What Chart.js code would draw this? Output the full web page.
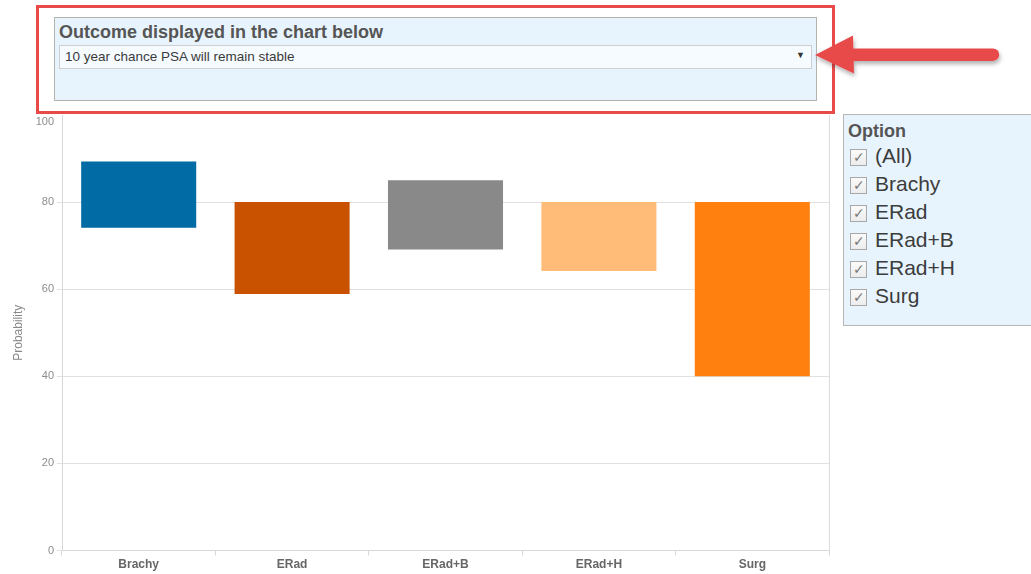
<!DOCTYPE html>
<html>
<head>
<meta charset="utf-8">
<script src="https://cdn.jsdelivr.net/npm/chart.js@4"></script>
<style>
  html, body { margin: 0; padding: 0; background: #fff; }
  #wrap { position: relative; width: 1031px; height: 574px; overflow: hidden; font-family: Arial, "Liberation Sans", sans-serif; }
  #c { position: absolute; left: 0; top: 0; }
  .redbox { position: absolute; left: 36px; top: 5px; width: 793px; height: 103px; border: 3px solid #e84a4a; box-sizing: content-box; background: #fff; }
  .panel { position: absolute; left: 54px; top: 17px; width: 761px; height: 82px; border: 1.5px solid #b3b3ab; background: #e8f4fd; }
  .panel .ttl { position: absolute; left: 4px; top: 4px; font-weight: bold; font-size: 18px; color: #555; white-space: nowrap; }
  .dd { position: absolute; left: 4px; top: 27px; width: 751px; height: 22px; border: 1px solid #cfcfcf; background: #f6fbff; }
  .dd .txt { position: absolute; left: 5px; top: 3px; font-size: 13.5px; color: #3a3a3a; white-space: nowrap; }
  .dd .arr { position: absolute; right: 6px; top: 4px; font-size: 9px; color: #333; }
  .legend { position: absolute; left: 843px; top: 114px; width: 200px; height: 210px; border: 1.5px solid #b8b8b0; background: #e8f4fd; }
  .legend .lt { position: absolute; left: 4px; top: 6px; font-weight: bold; font-size: 18px; color: #555; }
  .row { position: absolute; left: 6px; height: 24px; }
  .cb { position: absolute; left: 0; top: 3px; width: 17px; height: 17px; border: 1px solid #a8a8a8; background: linear-gradient(#fbfbfb, #ececec); box-sizing: border-box; }
  .cb span { position: absolute; left: 2px; top: -1px; font-size: 14px; color: #7a7a7a; font-family: "DejaVu Sans", sans-serif; }
  .row .lab { position: absolute; left: 25px; top: -2px; font-size: 21px; color: #3c3c3c; white-space: nowrap; }
  svg.arrow { position: absolute; left: 0; top: 0; }
</style>
</head>
<body>
<div id="wrap">
  <canvas id="c" width="1031" height="574"></canvas>
  <div class="redbox"></div>
  <div class="panel">
    <div class="ttl">Outcome displayed in the chart below</div>
    <div class="dd"><div class="txt">10 year chance PSA will remain stable</div><div class="arr">&#9660;</div></div>
  </div>
  <svg class="arrow" width="1031" height="120">
    <defs>
      <filter id="sh" x="-10%" y="-50%" width="120%" height="200%">
        <feDropShadow dx="1" dy="3" stdDeviation="2" flood-color="#000" flood-opacity="0.3"/>
      </filter>
    </defs>
    <g filter="url(#sh)" fill="#e84a4a" stroke="none">
      <line x1="850" y1="54.7" x2="993" y2="54.7" stroke="#e84a4a" stroke-width="12.5" stroke-linecap="round"/>
      <polygon points="815,55 853,35.5 854,73.5"/>
    </g>
  </svg>
  <div class="legend" id="legend">
    <div class="lt">Option</div>
  </div>
</div>
<script>
const categories = ['Brachy', 'ERad', 'ERad+B', 'ERad+H', 'Surg'];
const lowValues  = [74.1, 58.9, 69.1, 64.2, 40.0];
const highValues = [89.3, 80.0, 85.0, 80.0, 80.0];
const barColors  = ['#006BA4', '#C85200', '#898989', '#FFBC79', '#FF800E'];
const filterOptions = ['(All)', 'Brachy', 'ERad', 'ERad+B', 'ERad+H', 'Surg'];
const yTicks = [0, 20, 40, 60, 80, 100];
const yMax = 100;

const tickFont = { family: 'Arial, "Liberation Sans", sans-serif', size: 11 };
const tickColor = '#8c8c8c';

// legend / filter panel
const leg = document.getElementById('legend');
filterOptions.forEach((o, i) => {
  const r = document.createElement('div');
  r.className = 'row';
  r.style.top = (31 + i * 28) + 'px';
  r.innerHTML = '<div class="cb"><span>&#10003;</span></div><div class="lab"></div>';
  r.querySelector('.lab').textContent = o;
  leg.appendChild(r);
});

const extras = {
  id: 'extras',
  afterDraw(chart) {
    const a = chart.chartArea, ctx = chart.ctx, ys = chart.scales.y;
    ctx.save();
    // right border of the pane
    ctx.strokeStyle = '#dcdcdc';
    ctx.lineWidth = 1;
    ctx.beginPath();
    ctx.moveTo(Math.round(a.right) + 0.5, a.top);
    ctx.lineTo(Math.round(a.right) + 0.5, a.bottom);
    ctx.stroke();
    // top tick label nudged inside the pane (as in the reference)
    ctx.fillStyle = tickColor;
    ctx.font = tickFont.size + 'px ' + tickFont.family;
    ctx.textAlign = 'right';
    ctx.textBaseline = 'top';
    ctx.fillText(String(yMax), a.left - 8, ys.getPixelForValue(yMax) + 1);
    ctx.restore();
  }
};

new Chart(document.getElementById('c'), {
  type: 'bar',
  data: {
    labels: categories,
    datasets: [{
      label: 'Probability',
      data: categories.map((c, i) => [lowValues[i], highValues[i]]),
      backgroundColor: barColors,
      borderWidth: 0,
      barPercentage: 0.75,
      categoryPercentage: 1.0
    }]
  },
  options: {
    responsive: false,
    animation: false,
    layout: { padding: { left: 7, right: 202, top: 115, bottom: 0 } },
    plugins: { legend: { display: false }, tooltip: { enabled: false } },
    scales: {
      x: {
        afterFit(s) { s.height = 23.5; },
        grid: { drawOnChartArea: false, drawTicks: true, tickLength: 5, color: '#d8d8d8' },
        border: { display: true, color: '#d8d8d8' },
        ticks: { color: '#666', padding: 2, font: { family: 'Arial, "Liberation Sans", sans-serif', size: 12, weight: 'bold' } }
      },
      y: {
        z: 1,
        min: 0, max: yMax,
        afterFit(s) { s.width = 55; },
        afterBuildTicks(s) { s.ticks = yTicks.map(v => ({ value: v })); },
        grid: {
          tickLength: 5,
          color: (ctx) => ctx.tick && ctx.tick.value === yMax ? 'rgba(0,0,0,0)' : 'rgba(195,195,195,0.5)'
        },
        border: { display: true, color: '#d8d8d8' },
        ticks: {
          color: tickColor, padding: 3, font: tickFont,
          callback: (v) => v === yMax ? '' : String(v)
        },
        title: { display: true, text: 'Probability', color: '#888', font: { family: 'Arial, "Liberation Sans", sans-serif', size: 12 }, padding: { top: 4, bottom: 4 } }
      }
    }
  },
  plugins: [extras]
});
</script>
</body>
</html>
